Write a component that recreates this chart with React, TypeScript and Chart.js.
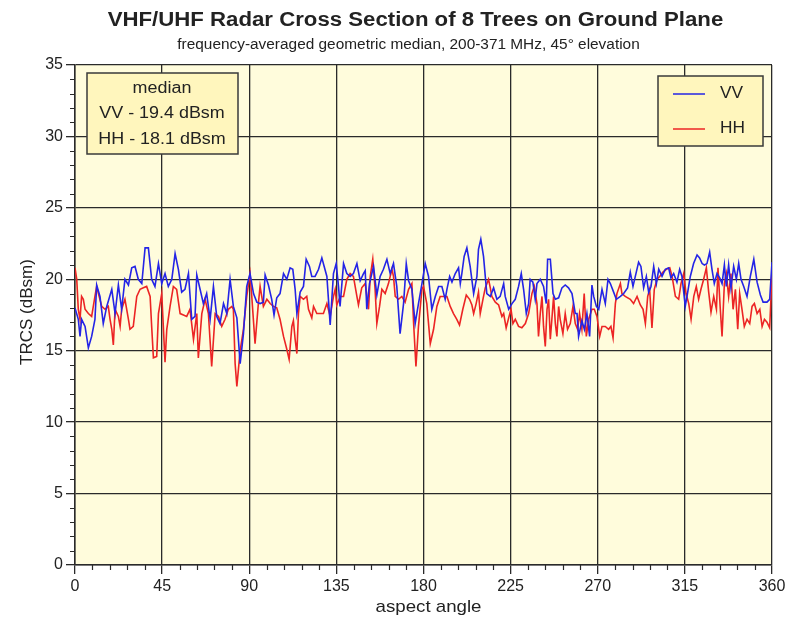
import React, { useEffect, useRef } from 'react';
import { Chart, registerables } from 'chart.js';
Chart.register(...registerables);

const TITLE = 'VHF/UHF Radar Cross Section of 8 Trees on Ground Plane';
const SUBTITLE = 'frequency-averaged geometric median, 200-371 MHz, 45° elevation';
const X_TITLE = 'aspect angle';
const Y_TITLE = 'TRCS (dBsm)';
const MEDIAN_LINES = ['median', 'VV - 19.4 dBsm', 'HH - 18.1 dBsm'];
const SERIES_NAMES = ['VV', 'HH'];

const xTicks = [0, 45, 90, 135, 180, 225, 270, 315, 360];
const yTicks = [0, 5, 10, 15, 20, 25, 30, 35];

const vvAngles = [0, 1.7, 2.6, 3.4, 5.2, 6.9, 8.6, 10.3, 11.2, 12.9, 14.6, 16.4, 19.0, 20.7, 22.4, 24.1, 25.8, 27.6, 29.3, 31.0, 32.7, 34.5, 36.2, 37.9, 39.6, 41.3, 43.1, 44.8, 46.5, 48.2, 50.0, 51.7, 53.4, 55.1, 56.8, 58.6, 60.3, 62.0, 62.9, 64.6, 66.3, 68.0, 69.8, 71.5, 73.2, 74.9, 76.7, 78.4, 80.1, 81.8, 83.6, 85.3, 87.0, 88.7, 90.4, 92.2, 93.9, 95.6, 97.3, 98.2, 99.9, 101.6, 102.8, 104.2, 105.9, 107.7, 109.4, 111.1, 112.5, 113.7, 114.6, 116.3, 118.0, 119.4, 121.1, 122.3, 124.0, 125.8, 127.5, 128.7, 130.1, 131.8, 133.5, 134.9, 136.1, 136.9, 138.7, 140.4, 142.1, 143.8, 145.6, 147.3, 149.0, 149.9, 150.7, 152.1, 154.2, 155.9, 157.6, 159.3, 161.1, 162.8, 164.5, 166.2, 167.9, 169.7, 171.1, 172.3, 174.0, 175.7, 177.4, 179.2, 180.9, 182.6, 184.3, 186.1, 187.8, 189.5, 191.2, 192.1, 193.5, 194.7, 196.4, 198.1, 199.0, 199.8, 201.0, 202.4, 204.1, 205.9, 207.6, 208.4, 209.6, 211.0, 212.7, 214.5, 216.2, 217.9, 219.6, 221.4, 222.2, 224.0, 225.7, 227.4, 229.1, 230.5, 231.7, 233.1, 234.3, 235.1, 236.5, 237.7, 238.6, 240.3, 242.0, 243.4, 244.1, 245.5, 246.9, 248.1, 249.8, 251.5, 253.2, 254.9, 256.7, 258.4, 259.3, 260.1, 261.8, 263.1, 264.4, 265.8, 267.0, 267.9, 269.3, 270.5, 272.2, 273.9, 275.3, 276.5, 278.2, 279.6, 281.7, 283.4, 285.4, 286.8, 288.2, 289.4, 291.1, 292.3, 293.7, 295.1, 296.3, 297.5, 298.9, 300.3, 301.5, 303.2, 304.9, 306.6, 307.8, 309.2, 310.9, 312.3, 313.5, 315.2, 316.1, 317.8, 319.5, 321.3, 322.6, 323.9, 325.1, 326.4, 327.8, 329.0, 330.2, 331.6, 333.0, 334.2, 335.4, 336.4, 337.6, 338.8, 340.2, 341.6, 342.8, 344.0, 345.4, 347.1, 348.8, 350.6, 352.3, 354.0, 355.4, 357.4, 358.8, 360];
const vvValues = [18.0, 17.2, 16.0, 17.2, 16.7, 15.2, 16.0, 17.2, 19.6, 18.8, 16.9, 18.1, 19.3, 17.6, 19.6, 17.9, 20.0, 19.6, 20.8, 20.9, 20.0, 19.7, 22.2, 22.2, 20.0, 19.5, 21.1, 19.7, 20.4, 19.5, 20.0, 21.8, 20.7, 19.1, 19.3, 20.4, 17.2, 17.4, 20.3, 19.3, 18.3, 19.0, 17.2, 19.5, 17.4, 16.9, 18.3, 17.6, 20.0, 18.1, 17.3, 14.1, 16.2, 19.5, 20.4, 19.0, 18.4, 18.3, 18.4, 20.3, 19.6, 18.6, 17.5, 18.7, 19.0, 20.4, 20.0, 20.8, 20.7, 19.3, 17.6, 19.1, 19.5, 21.4, 20.9, 20.2, 20.2, 20.7, 21.5, 20.9, 20.2, 16.8, 20.4, 21.1, 19.5, 18.1, 21.1, 20.4, 20.2, 20.4, 21.1, 19.9, 20.4, 20.6, 17.9, 19.7, 20.9, 18.9, 20.2, 20.7, 21.4, 20.4, 21.1, 19.5, 16.2, 18.3, 21.1, 19.9, 19.3, 16.9, 18.3, 19.7, 21.1, 20.2, 17.9, 18.8, 19.5, 19.5, 18.6, 19.3, 20.2, 19.8, 20.4, 20.8, 19.7, 20.4, 21.6, 22.2, 20.9, 19.0, 20.2, 22.1, 22.8, 21.6, 19.0, 18.8, 19.4, 18.6, 18.8, 19.7, 18.8, 17.9, 18.3, 18.6, 19.5, 20.4, 19.3, 17.6, 18.3, 20.0, 19.8, 18.6, 19.7, 20.0, 19.5, 18.3, 21.4, 21.4, 19.0, 18.6, 18.7, 19.4, 19.6, 19.4, 19.0, 17.6, 17.6, 16.0, 17.1, 16.5, 17.6, 16.0, 19.6, 18.8, 18.1, 17.9, 19.3, 18.3, 20.0, 19.7, 19.1, 18.6, 18.8, 19.0, 19.4, 20.5, 19.5, 20.2, 21.2, 20.9, 19.4, 20.2, 19.1, 19.5, 20.9, 19.7, 20.7, 20.2, 20.7, 20.8, 20.1, 20.4, 19.8, 20.7, 20.2, 18.1, 18.8, 20.2, 21.1, 21.7, 21.5, 21.1, 21.0, 21.1, 21.9, 20.7, 19.7, 20.4, 20.1, 19.7, 21.0, 19.5, 21.0, 19.4, 20.9, 20.0, 21.1, 20.0, 19.5, 18.8, 20.2, 21.4, 19.8, 18.9, 18.4, 18.4, 18.6, 21.2];

const hhAngles = [0, 0.9, 1.7, 2.6, 3.4, 4.3, 5.2, 6.9, 8.6, 10.3, 11.2, 12.1, 13.8, 15.5, 17.2, 18.1, 19.0, 19.8, 20.7, 22.4, 23.3, 24.1, 25.8, 27.6, 28.4, 30.1, 31.9, 33.6, 35.3, 37.0, 38.8, 39.6, 40.5, 42.2, 43.1, 44.8, 46.5, 47.4, 49.1, 50.8, 52.5, 54.3, 56.0, 57.7, 59.4, 61.2, 62.9, 63.7, 65.5, 67.2, 68.9, 70.6, 72.4, 74.1, 75.8, 77.5, 79.2, 81.0, 81.8, 82.7, 83.6, 85.3, 87.0, 88.7, 90.4, 91.3, 93.0, 94.7, 95.6, 97.3, 99.1, 100.8, 102.5, 104.2, 105.9, 107.7, 109.4, 110.6, 112.0, 112.8, 113.7, 114.6, 115.4, 116.3, 118.0, 119.7, 120.6, 122.3, 123.2, 124.9, 126.6, 128.3, 130.1, 131.8, 133.5, 134.4, 135.2, 137.0, 138.7, 140.4, 142.1, 143.8, 145.6, 146.4, 148.1, 149.9, 151.6, 152.5, 153.8, 155.0, 155.9, 157.3, 158.5, 160.2, 161.9, 163.7, 164.5, 165.4, 167.1, 168.8, 170.5, 172.3, 174.0, 174.9, 176.1, 177.4, 179.2, 180.0, 181.7, 183.5, 185.2, 186.9, 188.6, 190.4, 192.1, 193.8, 195.5, 197.2, 198.6, 200.3, 202.1, 203.8, 205.0, 205.9, 207.2, 208.4, 209.3, 210.7, 211.9, 213.6, 214.5, 215.3, 217.1, 218.8, 220.5, 221.4, 222.7, 224.0, 225.2, 226.2, 227.4, 229.1, 230.8, 232.6, 234.3, 236.0, 237.2, 238.6, 239.4, 240.3, 241.2, 242.0, 242.9, 243.8, 244.6, 245.5, 246.3, 247.2, 248.1, 248.9, 249.8, 250.6, 252.0, 253.2, 254.4, 255.8, 257.2, 258.4, 259.6, 260.6, 261.8, 263.0, 264.1, 265.3, 267.0, 268.2, 269.6, 271.0, 272.2, 273.9, 275.6, 276.8, 277.9, 279.1, 279.9, 281.7, 282.5, 284.2, 286.8, 288.5, 290.3, 292.0, 293.4, 294.6, 295.8, 296.8, 298.0, 299.2, 300.6, 302.0, 303.7, 305.4, 307.2, 308.4, 310.1, 311.8, 313.0, 314.4, 315.6, 317.0, 318.2, 319.6, 320.9, 322.1, 323.3, 324.7, 326.1, 327.3, 328.5, 329.9, 331.3, 332.1, 333.3, 334.2, 335.4, 336.4, 337.6, 338.8, 339.9, 341.1, 342.3, 343.3, 344.5, 345.7, 347.1, 348.5, 349.7, 350.9, 352.3, 353.7, 354.9, 356.1, 357.4, 358.8, 359.5, 360];
const hhValues = [20.8, 20.0, 17.9, 17.2, 18.8, 18.6, 17.9, 17.6, 17.4, 18.8, 19.5, 19.0, 18.1, 17.9, 18.1, 17.2, 16.5, 15.4, 17.9, 17.4, 16.7, 17.9, 18.6, 17.2, 16.5, 16.7, 18.8, 19.3, 19.4, 19.5, 18.8, 16.7, 14.5, 14.6, 17.6, 19.0, 14.2, 16.5, 18.1, 19.5, 19.3, 17.6, 17.5, 17.4, 17.9, 15.8, 17.6, 14.5, 17.6, 18.6, 17.6, 13.9, 17.6, 17.4, 16.7, 17.2, 17.9, 18.1, 17.9, 14.1, 12.5, 15.0, 16.5, 18.8, 20.4, 18.8, 15.5, 18.3, 19.5, 18.1, 18.6, 18.3, 18.1, 18.0, 17.2, 16.0, 15.1, 14.4, 16.7, 17.1, 15.8, 14.8, 17.6, 18.8, 18.6, 18.8, 17.9, 17.3, 18.1, 17.6, 17.6, 17.6, 18.3, 17.4, 18.8, 19.3, 18.2, 18.8, 18.8, 20.0, 20.4, 20.2, 18.8, 18.2, 19.4, 19.7, 17.9, 20.2, 21.4, 19.3, 16.9, 18.1, 19.3, 19.0, 19.7, 20.7, 20.2, 18.8, 18.6, 18.8, 18.4, 19.3, 19.7, 16.9, 13.9, 16.7, 19.3, 19.5, 18.3, 15.5, 16.5, 18.1, 18.8, 18.8, 18.8, 18.1, 17.6, 17.2, 16.8, 17.9, 18.9, 18.6, 18.2, 17.6, 18.3, 19.1, 17.6, 18.6, 19.4, 20.0, 19.4, 18.8, 18.4, 18.2, 17.4, 17.6, 16.6, 17.3, 17.9, 16.9, 17.2, 16.7, 16.6, 16.9, 17.6, 19.0, 19.5, 18.3, 16.0, 17.6, 18.8, 16.7, 15.3, 17.9, 18.6, 15.8, 17.2, 18.8, 16.9, 16.0, 18.1, 17.2, 16.2, 17.6, 16.5, 16.9, 18.1, 16.9, 16.5, 17.6, 16.5, 19.0, 16.0, 17.2, 17.9, 17.9, 17.4, 16.0, 16.7, 16.7, 16.5, 16.7, 15.9, 18.3, 19.0, 19.7, 19.0, 18.8, 18.6, 18.3, 18.8, 18.2, 17.9, 16.9, 18.8, 19.3, 16.6, 19.3, 20.0, 20.2, 20.5, 20.7, 20.8, 20.2, 18.8, 18.6, 19.7, 20.4, 19.0, 18.3, 17.2, 18.8, 19.5, 18.6, 19.3, 20.0, 20.8, 19.1, 17.7, 18.8, 17.9, 20.8, 17.9, 16.0, 19.7, 20.4, 18.8, 20.4, 17.9, 19.3, 16.5, 19.0, 17.9, 16.7, 17.2, 16.9, 18.1, 18.3, 17.6, 17.9, 16.7, 17.2, 17.0, 16.6, 18.8, 20.8];

const FONT = '"Liberation Sans", Arial, Helvetica, sans-serif';
const TEXT = '#222';
const GRID = '#2a2a2a';
const BLUE = '#2424e6';
const RED = '#ec2424';
const PLOT_BG = '#fffcdc';
const BOX_BG = '#fff6bd';

const toPoints = (xs: number[], ys: number[]) => xs.map((x, i) => ({ x, y: ys[i] }));

// draws text centred at (x, y), stretched horizontally by sx (the reference text is slightly wide)
function wideText(ctx: any, text: string, x: number, y: number, font: string, sx: number, align: string = 'center') {
  ctx.save();
  ctx.font = font;
  ctx.textAlign = align;
  ctx.textBaseline = 'middle';
  ctx.translate(x, y);
  ctx.scale(sx, 1);
  ctx.fillText(text, 0, 0);
  ctx.restore();
}

const decor = {
  id: 'decor',
  beforeDraw(chart: any) {
    const { ctx, chartArea: a } = chart;
    ctx.save();
    ctx.fillStyle = PLOT_BG;
    ctx.fillRect(a.left, a.top, a.right - a.left, a.bottom - a.top);
    ctx.restore();
  },
  afterDraw(chart: any) {
    const { ctx, chartArea: a, scales } = chart;
    const xs = scales.x;
    const ys = scales.y;
    ctx.save();
    // minor ticks
    ctx.strokeStyle = GRID;
    ctx.lineWidth = 1.2;
    ctx.beginPath();
    for (let v = 0; v <= 35; v += 1) {
      if (v % 5 === 0) continue;
      const y = Math.round(ys.getPixelForValue(v)) + 0.5;
      ctx.moveTo(a.left - 5, y);
      ctx.lineTo(a.left, y);
    }
    for (let v = 0; v <= 360; v += 9) {
      if (v % 45 === 0) continue;
      const x = Math.round(xs.getPixelForValue(v)) + 0.5;
      ctx.moveTo(x, a.bottom);
      ctx.lineTo(x, a.bottom + 5);
    }
    ctx.stroke();

    // titles
    const cx = (a.left + a.right) / 2;
    ctx.fillStyle = TEXT;
    wideText(ctx, TITLE, cx - 8, 20, `bold 20px ${FONT}`, 1.11);
    wideText(ctx, SUBTITLE, cx - 15, 45, `14px ${FONT}`, 1.1);
    wideText(ctx, X_TITLE, cx + 5, 607, `17px ${FONT}`, 1.1);
    ctx.save();
    ctx.translate(27, (a.top + a.bottom) / 2 - 3);
    ctx.rotate(-Math.PI / 2);
    ctx.font = `17px ${FONT}`;
    ctx.textAlign = 'center';
    ctx.textBaseline = 'middle';
    ctx.fillText(Y_TITLE, 0, 0);
    ctx.restore();

    // median box
    ctx.fillStyle = BOX_BG;
    ctx.strokeStyle = '#3a3a3a';
    ctx.lineWidth = 1.5;
    ctx.fillRect(87, 73, 151, 81);
    ctx.strokeRect(87, 73, 151, 81);
    ctx.fillStyle = TEXT;
    wideText(ctx, MEDIAN_LINES[0], 162, 89, `16px ${FONT}`, 1.12);
    wideText(ctx, MEDIAN_LINES[1], 162, 114, `16px ${FONT}`, 1.12);
    wideText(ctx, MEDIAN_LINES[2], 162, 140, `16px ${FONT}`, 1.12);

    // legend box
    ctx.fillStyle = BOX_BG;
    ctx.fillRect(658, 76, 105, 70);
    ctx.strokeRect(658, 76, 105, 70);
    const ds = chart.data.datasets;
    const rows = [94, 129];
    rows.forEach((y: number, i: number) => {
      ctx.strokeStyle = ds[i].borderColor;
      ctx.lineWidth = 1.5;
      ctx.beginPath();
      ctx.moveTo(673, y);
      ctx.lineTo(705, y);
      ctx.stroke();
      ctx.fillStyle = TEXT;
      wideText(ctx, SERIES_NAMES[i], 720, y, `16px ${FONT}`, 1.08, 'left');
    });
    ctx.restore();
  },
};

export default function App() {
  const ref = useRef<HTMLCanvasElement | null>(null);
  useEffect(() => {
    if (!ref.current) return;
    const chart = new Chart(ref.current, {
      type: 'line',
      data: {
        datasets: [
          { label: SERIES_NAMES[0], data: toPoints(vvAngles, vvValues), borderColor: BLUE, borderWidth: 1.6, pointRadius: 0, tension: 0, fill: false },
          { label: SERIES_NAMES[1], data: toPoints(hhAngles, hhValues), borderColor: RED, borderWidth: 1.6, pointRadius: 0, tension: 0, fill: false },
        ],
      },
      options: {
        animation: false,
        responsive: false,
        devicePixelRatio: 1,
        layout: { padding: { top: 65, right: 20, left: 0, bottom: 0 } },
        plugins: { legend: { display: false }, tooltip: { enabled: false }, title: { display: false } },
        scales: {
          x: {
            type: 'linear',
            min: 0,
            max: 360,
            afterBuildTicks: (s: any) => { s.ticks = xTicks.map((v) => ({ value: v })); },
            afterFit: (s: any) => { s.height = 54; },
            ticks: { color: TEXT, font: { family: FONT, size: 16 }, padding: 3, maxRotation: 0, autoSkip: false },
            grid: { color: GRID, lineWidth: 1.3, tickLength: 9, drawTicks: true },
            border: { color: GRID, width: 1.5 },
          },
          y: {
            min: 0,
            max: 35,
            afterBuildTicks: (s: any) => { s.ticks = yTicks.map((v) => ({ value: v })); },
            afterFit: (s: any) => { s.width = 75; },
            ticks: { color: TEXT, font: { family: FONT, size: 16 }, padding: 3 },
            grid: { color: GRID, lineWidth: 1.3, tickLength: 9, drawTicks: true },
            border: { color: GRID, width: 1.5 },
          },
        },
      },
      plugins: [decor],
    });
    return () => chart.destroy();
  }, []);
  return (
    <div style={{ position: 'fixed', left: 0, top: 0, width: 792, height: 619, background: '#fff' }}>
      <canvas ref={ref} width={792} height={619} />
    </div>
  );
}
